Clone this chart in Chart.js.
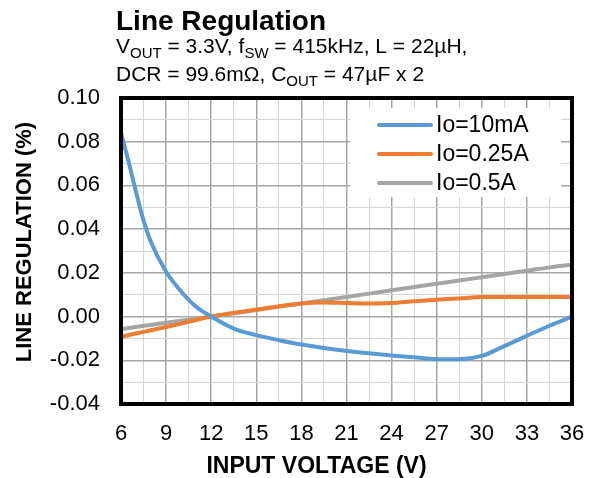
<!DOCTYPE html>
<html><head><meta charset="utf-8">
<script src="https://cdn.jsdelivr.net/npm/chart.js@4.4.1/dist/chart.umd.min.js"></script>
<style>html,body{margin:0;padding:0;background:#fff;}#wrap{width:594px;height:478px;}</style>
</head><body><div id="wrap"><canvas id="c" width="594" height="478"></canvas></div>
<script>
// ---- data ----
const seriesLabels = ['Io=10mA', 'Io=0.25A', 'Io=0.5A'];
const seriesColors = ['#5B9BD5', '#ED7D31', '#A5A5A5'];
const vin10mA = [6, 6.5, 7, 7.5, 8, 9, 10, 11, 12, 13.5, 15, 16.5, 18, 21, 24, 25.5, 27, 28.5, 30, 31.5, 33, 34.5, 36];
const reg10mA = [0.084, 0.071, 0.057, 0.044, 0.034, 0.0205, 0.0115, 0.0045, 0.0, -0.0055, -0.0085, -0.0108, -0.0128, -0.0158, -0.0178, -0.0186, -0.0195, -0.0195, -0.018, -0.0135, -0.0088, -0.0042, 0.0];
const vinLoad = [6, 7.5, 9, 10.5, 12, 13.5, 15, 16.5, 18, 19.5, 21, 22.5, 24, 25.5, 27, 28.5, 30, 31.5, 33, 34.5, 36];
const reg250mA = [-0.0092, -0.007, -0.0048, -0.0024, 0.0, 0.0017, 0.0032, 0.0047, 0.006, 0.0064, 0.0062, 0.006, 0.0062, 0.007, 0.0077, 0.0083, 0.0089, 0.009, 0.009, 0.009, 0.009];
const reg500mA = [-0.0058, -0.0042, -0.0028, -0.0014, 0.0, 0.0015, 0.003, 0.0045, 0.006, 0.0075, 0.009, 0.0105, 0.012, 0.0135, 0.015, 0.0165, 0.018, 0.0195, 0.021, 0.0225, 0.0238];
const xTickLabels = ['6', '9', '12', '15', '18', '21', '24', '27', '30', '33', '36'];
const yTickLabels = ['-0.04', '-0.02', '0.00', '0.02', '0.04', '0.06', '0.08', '0.10'];
const xMin = 6, xMax = 36, xMinorStep = 1.5;
const yMin = -0.04, yMax = 0.10, yMinorStep = 0.01;

const FONT = '"Liberation Sans", Arial, sans-serif';
const pts = (xs, ys) => xs.map((x, i) => ({x, y: ys[i]}));

const isMajorX = v => Math.abs(v / 3 - Math.round(v / 3)) < 1e-6;
const isMajorY = v => Math.abs(Math.round(v * 100)) % 2 === 0;

const titlePlugin = {
  id: 'titles',
  afterDraw(chart) {
    const ctx = chart.ctx, a = chart.chartArea;
    ctx.save();
    ctx.fillStyle = '#000';
    ctx.textBaseline = 'alphabetic';
    ctx.textAlign = 'left';
    ctx.font = 'bold 28px ' + FONT;
    ctx.fillText('Line Regulation', 116, 30);
    const rich = (parts, x, y) => {
      for (const [t, sub] of parts) {
        ctx.font = (sub ? '15px ' : '21px ') + FONT;
        ctx.fillText(t, x, y + (sub ? 5 : 0));
        x += ctx.measureText(t).width;
      }
    };
    rich([['V', 0], ['OUT', 1], [' = 3.3V, f', 0], ['SW', 1], [' = 415kHz, L = 22µH,', 0]], 116, 53);
    rich([['DCR = 99.6mΩ, C', 0], ['OUT', 1], [' = 47µF x 2', 0]], 116, 81);
    // axis titles
    ctx.font = 'bold 23px ' + FONT;
    ctx.textAlign = 'center';
    ctx.textBaseline = 'middle';
    ctx.fillText('INPUT VOLTAGE (V)', (a.left + a.right) / 2 - 30, 467);
    ctx.save();
    ctx.translate(25, (a.top + a.bottom) / 2 - 9);
    ctx.rotate(-Math.PI / 2);
    ctx.font = 'bold 22px ' + FONT;
    ctx.fillText('LINE REGULATION (%)', 0, 0);
    ctx.restore();
    // plot border
    ctx.strokeStyle = '#000';
    ctx.lineWidth = 4;
    ctx.strokeRect(a.left, a.top, a.right - a.left, a.bottom - a.top);
    ctx.restore();
  }
};

const legendPlugin = {
  id: 'insideLegend',
  afterDatasetsDraw(chart) {
    const ctx = chart.ctx;
    ctx.save();
    ctx.fillStyle = '#fff';
    ctx.fillRect(350, 108, 211, 89);
    ctx.font = '23px ' + FONT;
    ctx.textBaseline = 'middle';
    ctx.textAlign = 'left';
    chart.data.datasets.forEach((ds, i) => {
      const y = 125 + i * 29;
      ctx.strokeStyle = ds.borderColor;
      ctx.lineWidth = 4;
      ctx.lineCap = 'round';
      ctx.beginPath(); ctx.moveTo(379, y); ctx.lineTo(431, y); ctx.stroke();
      ctx.fillStyle = '#000';
      ctx.fillText(ds.label, 436, y + 1);
    });
    ctx.restore();
  }
};

new Chart(document.getElementById('c'), {
  type: 'line',
  data: {
    datasets: [
      {label: seriesLabels[0], data: pts(vin10mA, reg10mA), borderColor: seriesColors[0]},
      {label: seriesLabels[1], data: pts(vinLoad, reg250mA), borderColor: seriesColors[1]},
      {label: seriesLabels[2], data: pts(vinLoad, reg500mA), borderColor: seriesColors[2]}
    ]
  },
  options: {
    responsive: false, animation: false, devicePixelRatio: 1,
    layout: {padding: {top: 98, right: 22, left: 0, bottom: 0}},
    plugins: {legend: {display: false}, title: {display: false}, tooltip: {enabled: false}},
    elements: {point: {radius: 0}, line: {borderWidth: 4, cubicInterpolationMode: 'monotone', fill: false}},
    scales: {
      x: {
        type: 'linear', min: xMin, max: xMax,
        afterFit(s) { s.height = 74; s.paddingLeft = 0; s.paddingRight = 0; },
        ticks: {stepSize: xMinorStep, autoSkip: false, maxRotation: 0, padding: 17, color: '#000',
          font: {family: FONT, size: 22},
          callback: v => { const s = String(Math.round(v * 10) / 10); return xTickLabels.includes(s) ? s : ''; }},
        grid: {drawTicks: false, color: c => isMajorX(c.tick.value) ? '#a6a6a6' : '#d4d4d4', lineWidth: c => isMajorX(c.tick.value) ? 1.5 : 1},
        border: {display: false}
      },
      y: {
        type: 'linear', min: yMin, max: yMax,
        afterFit(s) { s.width = 121; s.paddingTop = 0; s.paddingBottom = 0; },
        ticks: {stepSize: yMinorStep, autoSkip: false, padding: 21, color: '#000',
          font: {family: FONT, size: 22},
          callback: v => { const s = (Math.abs(v) < 1e-9 ? 0 : v).toFixed(2); return yTickLabels.includes(s) ? s : ''; }},
        grid: {drawTicks: false, color: c => isMajorY(c.tick.value) ? '#a6a6a6' : '#d4d4d4', lineWidth: c => isMajorY(c.tick.value) ? 1.5 : 1},
        border: {display: false}
      }
    }
  },
  plugins: [legendPlugin, titlePlugin]
});
</script>
</body></html>
